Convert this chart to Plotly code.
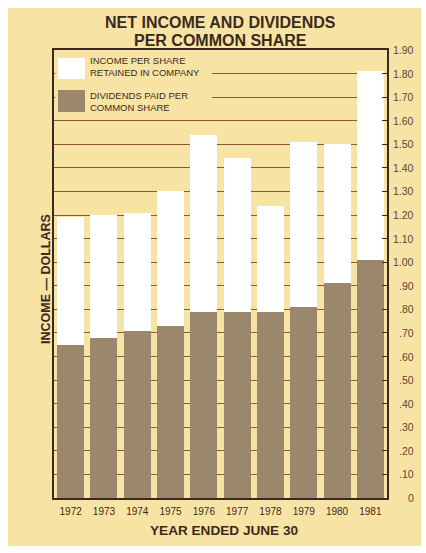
import plotly.graph_objects as go

years = ["1972", "1973", "1974", "1975", "1976", "1977", "1978", "1979", "1980", "1981"]
net_income = [1.19, 1.20, 1.21, 1.30, 1.54, 1.44, 1.24, 1.51, 1.50, 1.81]
dividends = [0.65, 0.68, 0.71, 0.73, 0.79, 0.79, 0.79, 0.81, 0.91, 1.01]
retained = [round(n - d, 2) for n, d in zip(net_income, dividends)]
tick_vals = [0, 0.1, 0.2, 0.3, 0.4, 0.5, 0.6, 0.7, 0.8, 0.9, 1.0, 1.1, 1.2, 1.3, 1.4, 1.5, 1.6, 1.7, 1.8, 1.9]
tick_text = ["0", ".10", ".20", ".30", ".40", ".50", ".60", ".70", ".80", ".90",
             "1.00", "1.10", "1.20", "1.30", "1.40", "1.50", "1.60", "1.70", "1.80", "1.90"]

BG = "#f7e4a4"
DARK = "#3b2a1c"
GRID = "#8e5836"
BROWN = "#9b876b"
FONT = "Liberation Sans, Arial, sans-serif"

W, H = 426, 553
L, R, T, B = 54, 39, 50, 55
pw, ph = W - L - R, H - T - B

def px_x(x):
    return (x - L) / pw

def px_y(y):
    return 1 - (y - T) / ph

fig = go.Figure()
fig.add_trace(go.Bar(x=years, y=dividends, marker=dict(color=BROWN, line=dict(width=0)),
                     name="DIVIDENDS PAID PER COMMON SHARE", showlegend=False))
fig.add_trace(go.Bar(x=years, y=retained, marker=dict(color="#ffffff", line=dict(width=0)),
                     name="INCOME PER SHARE RETAINED IN COMPANY", showlegend=False))

shapes = [
    # page background
    dict(type="rect", xref="paper", yref="paper", x0=px_x(8), x1=px_x(421), y0=px_y(546), y1=px_y(8),
         fillcolor=BG, line=dict(width=0), layer="below"),
    # legend area cover (hides gridlines behind legend)
    dict(type="rect", xref="paper", yref="y", x0=0.004, x1=px_x(212), y0=1.62, y1=1.893,
         fillcolor=BG, line=dict(width=0), layer="above"),
    # legend swatches
    dict(type="rect", xref="paper", yref="paper", x0=px_x(58), x1=px_x(85), y0=px_y(79), y1=px_y(58),
         fillcolor="#ffffff", line=dict(width=0), layer="above"),
    dict(type="rect", xref="paper", yref="paper", x0=px_x(58), x1=px_x(85), y0=px_y(112), y1=px_y(90),
         fillcolor=BROWN, line=dict(width=0), layer="above"),
]

def txt(text, x, y, size, xanchor="left", bold=False, angle=0, color=DARK):
    return dict(text=f"<b>{text}</b>" if bold else text, xref="paper", yref="paper",
                x=px_x(x), y=px_y(y), xanchor=xanchor, yanchor="middle", showarrow=False,
                textangle=angle, font=dict(family=FONT, size=size, color=color))

annotations = [
    txt("NET INCOME AND DIVIDENDS", 220, 22, 16, "center", True),
    txt("PER COMMON SHARE", 220, 41, 16, "center", True),
    txt("INCOME PER SHARE", 88, 61, 9.5),
    txt("RETAINED IN COMPANY", 88, 72.5, 9.5),
    txt("DIVIDENDS PAID PER", 88, 96, 9.5),
    txt("COMMON SHARE", 88, 107.5, 9.5),
    txt("INCOME — DOLLARS", 46, 279, 12.5, "center", True, -90),
    txt("YEAR ENDED JUNE 30", 224, 530, 13.6, "center", True),
]
for v, t in zip(tick_vals, tick_text):
    annotations.append(dict(text=t, xref="paper", yref="y", x=px_x(416), y=v,
                            xanchor="right", yanchor="middle", showarrow=False,
                            font=dict(family=FONT, size=10.5, color="#5a4632")))

fig.update_layout(
    width=W, height=H,
    margin=dict(l=L, r=R, t=T, b=B, pad=0),
    paper_bgcolor="#ffffff", plot_bgcolor=BG,
    barmode="stack", bargap=0.19,
    shapes=shapes, annotations=annotations,
    showlegend=False,
    xaxis=dict(showline=True, linecolor=DARK, linewidth=1.5, mirror=True, ticks="",
               tickfont=dict(family=FONT, size=10, color=DARK), showgrid=False,
               ticklabelstandoff=3),
    yaxis=dict(range=[0, 1.9], side="right", showline=True, linecolor=DARK, linewidth=1.5, mirror=True,
               tickvals=tick_vals, showticklabels=False, ticks="inside", ticklen=5, tickcolor=DARK,
               showgrid=True, gridcolor=GRID, gridwidth=1.3, zeroline=False),
)

fig.write_html("out.html")
